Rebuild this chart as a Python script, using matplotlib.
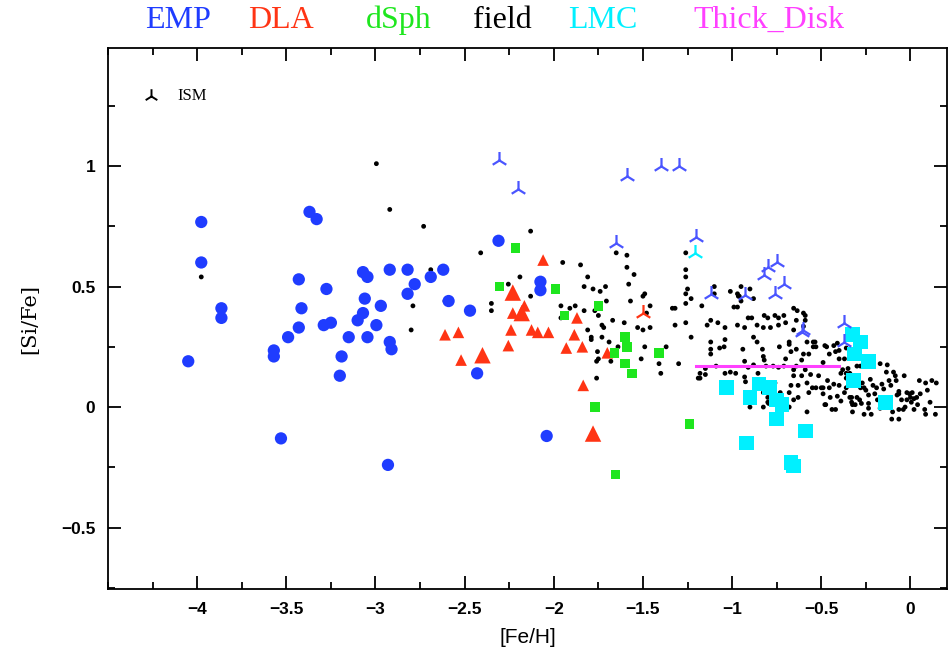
import numpy as np
import matplotlib
matplotlib.use("Agg")
import matplotlib.pyplot as plt
from matplotlib.ticker import MultipleLocator

# EMP stars (blue circles)
emp_feh = [-3.977, -3.977, -3.864, -3.864, -4.05, -3.37, -3.33, -3.43, -3.275, -3.415,
           -3.43, -3.49, -3.57, -3.57, -3.53, -3.29, -3.25, -3.07, -3.045, -3.06,
           -3.07, -3.10, -3.15, -3.045, -2.995, -2.97, -3.19, -3.20, -2.92, -2.91,
           -2.93, -2.92, -2.82, -2.78, -2.82, -2.69, -2.62, -2.59, -2.47, -2.43,
           -2.31, -2.075, -2.075, -2.04]
emp_sife = [0.768, 0.60, 0.41, 0.37, 0.19, 0.81, 0.78, 0.53, 0.49, 0.41,
            0.33, 0.29, 0.235, 0.21, -0.13, 0.34, 0.35, 0.56, 0.54, 0.45,
            0.39, 0.36, 0.29, 0.29, 0.34, 0.42, 0.21, 0.13, 0.27, 0.24,
            -0.24, 0.57, 0.57, 0.51, 0.47, 0.54, 0.57, 0.44, 0.40, 0.14,
            0.69, 0.52, 0.485, -0.12]

# DLA (red triangles), plus the larger ones
dla_feh = [-2.61, -2.535, -2.52, -2.06, -2.165, -2.23, -2.24, -2.125, -2.09, -2.03,
           -2.255, -1.87, -1.885, -1.93, -1.84, -1.70, -1.835]
dla_sife = [0.30, 0.31, 0.195, 0.61, 0.42, 0.39, 0.32, 0.32, 0.31, 0.31,
            0.255, 0.37, 0.30, 0.245, 0.25, 0.225, 0.09]
dla_big_feh = [-2.40, -2.23, -2.18, -1.78]
dla_big_sife = [0.215, 0.475, 0.39, -0.11]

# dSph (green squares)
dsph_feh = [-2.215, -2.305, -1.99, -1.75, -1.94, -1.60, -1.59, -1.66, -1.41, -1.60,
            -1.56, -1.77, -1.24, -1.655]
dsph_sife = [0.66, 0.50, 0.49, 0.42, 0.38, 0.29, 0.25, 0.225, 0.225, 0.18,
             0.14, 0.00, -0.07, -0.28]

# LMC (cyan squares)
lmc_feh = [-1.03, -0.90, -0.85, -0.79, -0.75, -0.72, -0.75, -0.92, -0.67, -0.655,
           -0.59, -0.325, -0.28, -0.315, -0.235, -0.32, -0.14]
lmc_sife = [0.08, 0.04, 0.095, 0.08, 0.03, 0.01, -0.05, -0.15, -0.23, -0.245,
            -0.10, 0.30, 0.27, 0.22, 0.19, 0.11, 0.02]

# thick disk mean
thick_feh = [-1.2, -0.4]
thick_sife = [0.17, 0.17]

# ISM (tri markers, coloured by the group they go with)
ism_feh = [-2.31, -2.20, -1.59, -1.40, -1.30, -1.65, -1.20, -1.12, -0.93, -0.80,
           -0.75, -0.82, -0.71, -0.76, -0.61, -0.60, -0.37, -0.37, -1.50, -1.21]
ism_sife = [1.025, 0.905, 0.96, 1.00, 1.00, 0.68, 0.705, 0.47, 0.465, 0.58,
            0.60, 0.55, 0.51, 0.47, 0.31, 0.32, 0.35, 0.27, 0.39, 0.64]
ism_group = ["EMP"] * 18 + ["DLA", "LMC"]

# field stars (black dots)
field_feh = [
    -2.995, -2.92, -2.73, -3.977, -2.69, -2.41, -2.79, -2.61, -2.80, -2.35, -2.35,
    -2.13, -2.19, -2.255, -2.13, -1.95, -1.85, -1.81, -1.83, -1.78, -1.74, -1.71,
    -1.705, -1.96, -1.91, -1.88, -1.96, -1.83, -1.77, -1.75, -1.67, -1.73, -1.72,
    -1.81, -1.79, -1.79, -1.73, -1.69, -1.755, -1.75, -1.76, -1.68, -1.76, -1.65,
    -1.59, -1.59, -1.55, -1.58, -1.57, -1.50, -1.49, -1.46, -1.48, -1.605, -1.53,
    -1.50, -1.46, -1.64, -1.49, -1.51, -1.37, -1.335, -1.32, -1.32, -1.26, -1.41,
    -1.40, -1.30, -1.26, -1.26, -1.25, -1.26, -1.26, -1.23, -1.19, -1.26, -1.23,
    -1.17, -1.10, -1.01, -0.95, -0.90, -0.96, -0.88, -0.99, -0.97, -0.965, -1.12,
    -1.14, -1.08, -1.04, -0.97, -0.93, -0.91, -0.89, -0.86, -0.82, -0.80, -0.76,
    -0.74, -0.785, -0.74, -0.70, -0.71, -0.825, -0.655, -0.635, -0.59, -0.64, -0.60,
    -0.655, -1.12, -1.12, -1.12, -1.04, -1.07, -1.045, -0.94, -0.88, -0.86, -0.83,
    -0.825, -0.82, -0.735, -0.68, -0.68, -0.67, -0.64, -0.60, -0.57, -0.545, -0.545,
    -0.48, -0.43, -0.42, -0.70, -0.64, -0.61, -0.49, -0.40, -0.38, -0.30, -0.39,
    -1.18, -1.15, -1.09, -1.04, -0.93, -0.93, -0.855, -0.925, -0.90, -0.83, -0.80,
    -0.795, -0.90, -0.825, -0.73, -0.68, -0.67, -0.63, -0.61, -0.655, -0.55, -0.53,
    -0.50, -0.455, -0.43, -0.515, -0.465, -0.49, -0.48, -0.44, -0.58, -0.41, -0.39,
    -0.37, -0.36, -0.34, -0.33, -0.325, -0.30, -0.28, -0.285, -0.275, -0.26, -0.235,
    -0.235, -0.21, -0.20, -0.185, -0.16, -0.15, -0.17, -0.135, -0.12, -0.11, -0.085,
    -0.12, -0.12, -0.10, -0.105, -0.075, -0.065, -0.05, -0.065, -0.04, -0.02, -0.02,
    0.00, 0.005, 0.01, 0.02, 0.04, 0.05, 0.085, 0.085, 0.02, -0.03, -0.24, -0.225,
    -0.27, -0.30, -0.235, -0.17, -0.26, -0.325, -1.05, -1.18, -1.15, -0.76, -0.735,
    -0.68, -0.57, -0.58, -0.63, -0.655, -0.45, -0.40, -0.36, -0.34, -0.59, -0.56,
    -0.655, -0.825, -0.80, -0.74, -0.71, -0.77, -0.81, -0.88, -0.91, -0.98, -1.01,
    -0.60, -0.59, -0.58, -0.535, -0.53, -0.47, -0.455, -0.41, -0.40, -0.36, -0.37,
    -0.35, -0.36, -0.28, -0.25, -0.19, -0.13, -0.095, -0.035, -0.08, -0.065, -0.005,
    0.055, 0.12, 0.145, 0.14, 0.11, 0.08, -0.065, -0.22, -0.14, -0.31, -0.42, -0.475,
    -0.49, -0.33, 0.095, 0.035, -1.10, -0.95, -0.97]
field_sife = [
    1.01, 0.82, 0.75, 0.54, 0.57, 0.64, 0.42, 0.44, 0.32, 0.43, 0.40,
    0.73, 0.54, 0.51, 0.46, 0.60, 0.59, 0.54, 0.50, 0.49, 0.48, 0.50,
    0.44, 0.42, 0.41, 0.42, 0.37, 0.40, 0.40, 0.38, 0.36, 0.34, 0.33,
    0.32, 0.29, 0.28, 0.29, 0.27, 0.23, 0.20, 0.19, 0.19, 0.12, 0.64,
    0.63, 0.58, 0.55, 0.51, 0.44, 0.46, 0.47, 0.42, 0.39, 0.35, 0.33,
    0.32, 0.33, 0.25, 0.25, 0.20, 0.25, 0.41, 0.41, 0.34, 0.35, 0.18,
    0.14, 0.18, 0.57, 0.54, 0.49, 0.47, 0.43, 0.29, 0.12, 0.64, 0.45,
    0.42, 0.50, 0.48, 0.50, 0.49, 0.46, 0.45, 0.415, 0.415, 0.46, 0.36,
    0.34, 0.35, 0.33, 0.34, 0.33, 0.37, 0.37, 0.34, 0.38, 0.37, 0.38,
    0.37, 0.33, 0.34, 0.35, 0.38, 0.33, 0.41, 0.40, 0.38, 0.36, 0.335,
    0.32, 0.27, 0.24, 0.22, 0.28, 0.245, 0.25, 0.24, 0.29, 0.27, 0.24,
    0.21, 0.195, 0.25, 0.27, 0.26, 0.23, 0.24, 0.22, 0.22, 0.27, 0.25,
    0.255, 0.255, 0.23, 0.20, 0.17, 0.195, 0.185, 0.20, 0.155, 0.17, 0.14,
    0.14, 0.16, 0.17, 0.14, 0.19, 0.125, 0.14, 0.105, 0.06, 0.08, 0.04,
    0.015, 0.00, 0.00, 0.06, 0.06, 0.09, 0.09, 0.13, 0.13, 0.08, 0.08,
    0.08, 0.08, 0.095, 0.13, 0.11, 0.055, 0.01, -0.01, -0.02, 0.045, 0.025,
    0.06, 0.08, 0.04, 0.02, 0.01, 0.04, 0.08, 0.03, 0.015, 0.08, 0.015,
    -0.005, 0.09, 0.055, 0.03, 0.095, 0.075, 0.18, 0.145, 0.11, 0.09, 0.13,
    0.04, 0.01, -0.02, -0.05, 0.05, 0.065, 0.03, -0.01, -0.01, 0.06, 0.03,
    0.04, 0.02, 0.06, 0.035, 0.01, 0.11, 0.10, -0.03, -0.01, 0.00, 0.18, 0.115,
    0.10, 0.115, 0.05, -0.005, -0.03, -0.02, 0.09, 0.12, 0.135, 0.10, 0.01,
    0.00, 0.06, 0.10, 0.04, 0.03, 0.04, 0.09, 0.12, 0.14, 0.155, 0.135,
    0.155, 0.06, 0.02, 0.165, 0.17, 0.17, 0.17, 0.175, 0.165, 0.14, 0.145,
    0.39, 0.36, 0.27, 0.27, 0.25, 0.25, 0.22, 0.265, 0.235, 0.245, 0.20,
    0.16, 0.14, 0.17, 0.07, 0.08, 0.175, 0.145, 0.13, 0.11, 0.055, 0.055,
    0.055, 0.11, 0.10, -0.03, 0.02, -0.01, -0.05, -0.03, 0.005, 0.01, -0.01, 0.01,
    0.08, 0.04, 0.07, 0.04, 0.47, 0.44, 0.47]

group_colors = {"EMP": "#1f3cff", "DLA": "#ff3414", "dSph": "#1ee61e",
                "field": "black", "LMC": "#00f0ff", "Thick_Disk": "#ff40ff"}
ism_colors = {"EMP": "#4a55ff", "DLA": "#ff3414", "LMC": "#00f0ff"}
title_words = ["EMP", "DLA", "dSph", "field", "LMC", "Thick_Disk"]
title_x = [178, 281, 399, 502, 603, 769]

xtick_vals = [-4, -3.5, -3, -2.5, -2, -1.5, -1, -0.5, 0]
xtick_labels = ["\u22124", "\u22123.5", "\u22123", "\u22122.5", "\u22122",
                "\u22121.5", "\u22121", "\u22120.5", "0"]
ytick_vals = [-0.5, 0, 0.5, 1]
ytick_labels = ["\u22120.5", "0", "0.5", "1"]

W, H = 948, 653
fig = plt.figure(figsize=(W / 100, H / 100), dpi=100)
ax = fig.add_axes([108 / W, 1 - 589 / H, (947 - 108) / W, (589 - 48) / H])

ax.scatter(field_feh, field_sife, s=12, c="black", edgecolors="none", zorder=2)
ax.plot(thick_feh, thick_sife, color=group_colors["Thick_Disk"], lw=2.2, zorder=3)
ax.scatter(emp_feh, emp_sife, s=78, marker="o", c=group_colors["EMP"],
           edgecolors="none", zorder=4)
ax.scatter(dla_feh, dla_sife, s=70, marker="^", c=group_colors["DLA"],
           edgecolors="none", zorder=4)
ax.scatter(dla_big_feh, dla_big_sife, s=140, marker="^", c=group_colors["DLA"],
           edgecolors="none", zorder=4)
ax.scatter(dsph_feh, dsph_sife, s=48, marker="s", c=group_colors["dSph"],
           edgecolors="none", zorder=4)
ax.scatter(lmc_feh, lmc_sife, s=110, marker="s", c=group_colors["LMC"],
           edgecolors="none", zorder=4)
for g in ["EMP", "DLA", "LMC"]:
    xs = [x for x, k in zip(ism_feh, ism_group) if k == g]
    ys = [y for y, k in zip(ism_sife, ism_group) if k == g]
    ax.scatter(xs, ys, s=150, marker="2", c=ism_colors[g], linewidths=1.6, zorder=5)

# ISM key inside the frame
ax.scatter([-4.26], [1.29], s=110, marker="2", c="black", linewidths=1.4)
ax.text(-4.11, 1.29, "ISM", fontsize=12, family="Liberation Serif",
        va="center", ha="left")

ax.set_xlim(-4.5, 0.205)
ax.set_ylim(-0.755, 1.49)
ax.set_xticks(xtick_vals)
ax.set_xticklabels(xtick_labels)
ax.set_yticks(ytick_vals)
ax.set_yticklabels(ytick_labels)
ax.xaxis.set_minor_locator(MultipleLocator(0.25))
ax.yaxis.set_minor_locator(MultipleLocator(0.25))
ax.tick_params(which="both", direction="in", top=True, right=True, width=1.3)
ax.tick_params(which="major", length=9.5, pad=9)
ax.tick_params(which="minor", length=5)
for lab in ax.get_xticklabels() + ax.get_yticklabels():
    lab.set_family("Liberation Sans")
    lab.set_fontsize(12.5)
    lab.set_fontweight("bold")
for sp in ax.spines.values():
    sp.set_linewidth(1.3)

ax.set_xlabel("[Fe/H]", family="Liberation Sans", fontsize=15, labelpad=8)
ax.set_ylabel("[Si/Fe]", family="DejaVu Serif", fontsize=15, labelpad=16)

for word, xp in zip(title_words, title_x):
    fig.text(xp / W, 1 - 20 / H, word, ha="center", va="center",
             fontsize=23, family="Liberation Serif", color=group_colors[word])

fig.savefig("out.png", dpi=100)
